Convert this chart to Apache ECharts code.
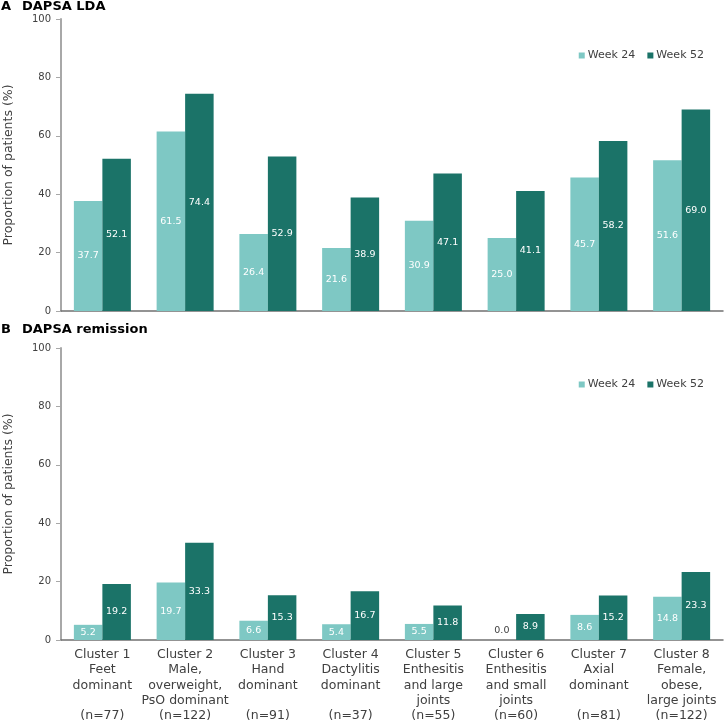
<!DOCTYPE html>
<html>
<head>
<meta charset="utf-8">
<script src="https://cdn.jsdelivr.net/npm/echarts@6/dist/echarts.min.js"></script>
<style>
html,body{margin:0;padding:0;background:#fff;}
#chart{width:725px;height:725px;}
</style>
</head>
<body>
<div id="chart"></div>
<script>
var categories = [
  "Cluster 1\nFeet\ndominant\n \n(n=77)",
  "Cluster 2\nMale,\noverweight,\nPsO dominant\n(n=122)",
  "Cluster 3\nHand\ndominant\n \n(n=91)",
  "Cluster 4\nDactylitis\ndominant\n \n(n=37)",
  "Cluster 5\nEnthesitis\nand large\njoints\n(n=55)",
  "Cluster 6\nEnthesitis\nand small\njoints\n(n=60)",
  "Cluster 7\nAxial\ndominant\n \n(n=81)",
  "Cluster 8\nFemale,\nobese,\nlarge joints\n(n=122)"
];
var seriesNames = ["Week 24", "Week 52"];
var ldaWeek24 = [37.7, 61.5, 26.4, 21.6, 30.9, 25.0, 45.7, 51.6];
var ldaWeek52 = [52.1, 74.4, 52.9, 38.9, 47.1, 41.1, 58.2, 69.0];
var remWeek24 = [5.2, 19.7, 6.6, 5.4, 5.5, 0.0, 8.6, 14.8];
var remWeek52 = [19.2, 33.3, 15.3, 16.7, 11.8, 8.9, 15.2, 23.3];
var yTicks = [0, 20, 40, 60, 80, 100];
var panelTitles = [["A", "DAPSA LDA"], ["B", "DAPSA remission"]];

var FONT = "DejaVu Sans, Verdana, sans-serif";
var lightColor = "#7ec8c4";
var darkColor = "#1b7368";
var textColor = "#404040";

function prep(arr) {
  return arr.map(function (v) {
    if (v === 0) {
      return { value: v, label: { position: "top", color: textColor, distance: 4 } };
    }
    return v;
  });
}

function yAxis(idx) {
  return {
    type: "value", gridIndex: idx, min: yTicks[0], max: yTicks[yTicks.length - 1], interval: 20,
    name: "Proportion of patients (%)", nameLocation: "middle", nameGap: 46,
    nameTextStyle: { fontFamily: FONT, fontSize: 12.5, color: textColor },
    axisLine: { show: true, lineStyle: { color: "#a8a8a8", width: 2 } },
    axisTick: { show: true, length: 5, lineStyle: { color: "#a8a8a8", width: 1 } },
    axisLabel: { fontFamily: FONT, fontSize: 10, color: textColor, margin: 10 },
    splitLine: { show: false }
  };
}

function xAxis(idx, showLabels) {
  return {
    type: "category", gridIndex: idx, data: categories,
    axisLine: { show: true, lineStyle: { color: "#707070", width: 1.5 } },
    axisTick: { show: false },
    axisLabel: {
      show: showLabels, interval: 0, fontFamily: FONT, fontSize: 12.5, color: textColor,
      lineHeight: 15.3, margin: 7
    }
  };
}

function barSeries(name, data, idx, color) {
  return {
    type: "bar", name: name, xAxisIndex: idx, yAxisIndex: idx,
    data: prep(data), barWidth: 28.5, barGap: "0%",
    itemStyle: { color: color },
    label: {
      show: true, position: "inside", color: "#ffffff", fontFamily: FONT, fontSize: 9.5,
      formatter: function (p) { return Number(p.value).toFixed(1); }
    }
  };
}

function legend(top) {
  return {
    data: seriesNames, right: 16, top: top, icon: "rect", itemWidth: 6, itemHeight: 6,
    itemGap: 12, textStyle: { fontFamily: FONT, fontSize: 11, color: textColor, padding: [0, 0, 0, -2] }
  };
}

var chart = echarts.init(document.getElementById("chart"), null, { renderer: "canvas" });
chart.setOption({
  animation: false,
  backgroundColor: "#ffffff",
  graphic: [
    { type: "text", left: 1, top: 0, style: { text: panelTitles[0][0], font: "bold 13px " + FONT, fill: "#000" } },
    { type: "text", left: 22, top: 0, style: { text: panelTitles[0][1], font: "bold 13px " + FONT, fill: "#000" } },
    { type: "text", left: 1, top: 323, style: { text: panelTitles[1][0], font: "bold 13px " + FONT, fill: "#000" } },
    { type: "text", left: 22, top: 323, style: { text: panelTitles[1][1], font: "bold 13px " + FONT, fill: "#000" } }
  ],
  legend: [legend(45), legend(374)],
  grid: [
    { left: 61, right: 2, top: 19, height: 292, containLabel: false, outerBoundsMode: "none" },
    { left: 61, right: 2, top: 348, height: 292, containLabel: false, outerBoundsMode: "none" }
  ],
  xAxis: [xAxis(0, false), xAxis(1, true)],
  yAxis: [yAxis(0), yAxis(1)],
  series: [
    barSeries(seriesNames[0], ldaWeek24, 0, lightColor),
    barSeries(seriesNames[1], ldaWeek52, 0, darkColor),
    barSeries(seriesNames[0], remWeek24, 1, lightColor),
    barSeries(seriesNames[1], remWeek52, 1, darkColor)
  ]
});
</script>
</body>
</html>
